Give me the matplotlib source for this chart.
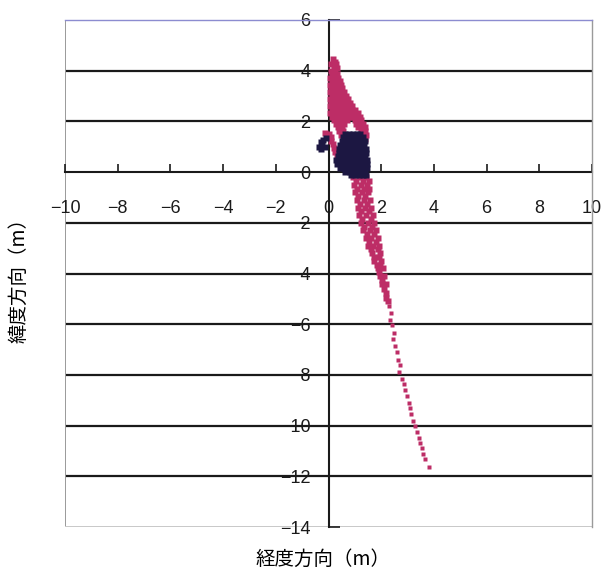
import matplotlib.pyplot as plt

plt.rcParams['font.family'] = ['Liberation Sans', 'Noto Sans CJK JP', 'DejaVu Sans']

# Crimson series, dense upper streak: (y, [x values]) read row by row
crimson_upper_rows = [
    (4.45, [0.17]),
    (4.35, [0.24]),
    (4.25, [0.11, 0.27]),
    (4.1, [0.19, 0.31]),
    (3.98, [0.08, 0.23]),
    (3.85, [0.15, 0.33]),
    (3.72, [0.06, 0.22, 0.37]),
    (3.58, [0.13, 0.3, 0.42]),
    (3.44, [0.04, 0.21, 0.36, 0.47]),
    (3.3, [0.11, 0.27, 0.43, 0.53]),
    (3.16, [0.05, 0.19, 0.34, 0.49, 0.6]),
    (3.02, [0.12, 0.27, 0.41, 0.56, 0.67]),
    (2.88, [0.04, 0.2, 0.36, 0.52, 0.66, 0.74]),
    (2.74, [0.11, 0.27, 0.43, 0.58, 0.71, 0.8]),
    (2.6, [0.05, 0.21, 0.37, 0.52, 0.68, 0.83, 0.9]),
    (2.46, [0.12, 0.28, 0.44, 0.6, 0.75, 0.88, 0.99]),
    (2.32, [0.04, 0.2, 0.36, 0.52, 0.67, 0.83, 0.97, 1.1]),
    (2.18, [0.13, 0.29, 0.45, 0.61, 0.77, 0.92, 1.06, 1.2]),
    (2.04, [0.2, 0.37, 0.53, 0.7, 0.99, 1.14, 1.25]),
    (1.9, [0.27, 0.44, 0.58, 1.04, 1.19, 1.32]),
    (1.76, [0.35, 0.51, 1.13, 1.27, 1.37]),
    (1.62, [0.41, 0.56, 1.22, 1.39]),
    (1.48, [0.46, 1.3, 1.42]),
    (1.32, [1.4]),
]

# Crimson points around the small left blob
crimson_left_x = [-0.12, -0.04, 0.02, 0.08, 0.11, 0.16, 0.21, 0.26, 0.31]
crimson_left_y = [1.55, 1.47, 1.52, 1.39, 1.24, 1.1, 0.95, 0.8, 0.66]

# Crimson series, dense lower streak
crimson_lower_rows = [
    (-0.2, [0.92, 1.18, 1.44]),
    (-0.35, [1.03, 1.3, 1.52]),
    (-0.5, [0.98, 1.22, 1.47]),
    (-0.65, [1.08, 1.36, 1.55]),
    (-0.8, [1.02, 1.27, 1.5]),
    (-0.95, [1.12, 1.4]),
    (-1.1, [1.07, 1.33, 1.58]),
    (-1.25, [1.18, 1.47]),
    (-1.4, [1.13, 1.38, 1.62]),
    (-1.55, [1.22, 1.52]),
    (-1.7, [1.17, 1.43, 1.68]),
    (-1.85, [1.28, 1.6]),
    (-2.0, [1.24, 1.5, 1.74]),
    (-2.15, [1.35, 1.66]),
    (-2.3, [1.32, 1.57, 1.8]),
    (-2.45, [1.45, 1.72]),
    (-2.6, [1.43, 1.63, 1.86]),
    (-2.75, [1.53, 1.79]),
    (-2.9, [1.5, 1.7, 1.92]),
    (-3.05, [1.62, 1.86]),
    (-3.2, [1.66, 1.95]),
    (-3.35, [1.74, 1.9]),
    (-3.5, [1.72, 2.0]),
    (-3.65, [1.83, 1.97]),
    (-3.8, [1.86, 2.07]),
    (-3.95, [1.93]),
    (-4.1, [1.97, 2.12]),
    (-4.25, [2.04]),
    (-4.4, [2.02, 2.18]),
    (-4.6, [2.12]),
    (-4.75, [2.2]),
    (-4.95, [2.17]),
    (-5.1, [2.26]),
]

# Crimson sparse tail
tail_x = [2.28, 2.36, 2.33, 2.42, 2.47, 2.44, 2.53, 2.58, 2.62, 2.7, 2.68,
          2.78, 2.86, 2.92, 2.98, 3.04, 3.1, 3.13, 3.22, 3.28, 3.35, 3.42,
          3.48, 3.55, 3.6, 3.68, 3.8]
tail_y = [-5.3, -5.55, -5.85, -6.05, -6.35, -6.6, -6.85, -7.1, -7.4, -7.6,
          -7.9, -8.15, -8.35, -8.6, -8.85, -9.1, -9.3, -9.55, -9.8, -10.0,
          -10.25, -10.5, -10.7, -10.9, -11.1, -11.3, -11.65]

# Navy series, main cluster
navy_rows = [
    (1.52, [0.62, 0.78, 0.93, 1.08, 1.2]),
    (1.37, [0.55, 0.7, 0.86, 1.01, 1.16, 1.3]),
    (1.22, [0.5, 0.66, 0.81, 0.96, 1.11, 1.26, 1.38]),
    (1.07, [0.45, 0.6, 0.75, 0.9, 1.05, 1.2, 1.35]),
    (0.92, [0.4, 0.55, 0.7, 0.85, 1.0, 1.15, 1.3, 1.41]),
    (0.77, [0.41, 0.56, 0.71, 0.86, 1.01, 1.16, 1.31, 1.42]),
    (0.62, [0.35, 0.5, 0.65, 0.8, 0.95, 1.1, 1.25, 1.4]),
    (0.47, [0.3, 0.45, 0.6, 0.75, 0.9, 1.05, 1.2, 1.35, 1.46]),
    (0.32, [0.31, 0.46, 0.61, 0.76, 0.91, 1.06, 1.21, 1.36, 1.46]),
    (0.17, [0.44, 0.6, 0.75, 0.9, 1.05, 1.2, 1.35, 1.45]),
    (0.02, [0.64, 0.8, 0.95, 1.1, 1.25, 1.4]),
    (-0.13, [0.86, 1.01, 1.16, 1.3, 1.41]),
]

# Navy small blob left of the axis
navy_blob_x = [-0.35, -0.3, -0.25, -0.2, -0.15, -0.1, -0.3]
navy_blob_y = [1.0, 0.9, 1.1, 1.25, 1.0, 1.35, 1.2]

x_ticks = list(range(-10, 11, 2))
y_ticks = list(range(-14, 7, 2))

CRIMSON = '#bd2d66'
NAVY = '#1c1742'


def flatten(rows):
    xs, ys = [], []
    for yv, row in rows:
        xs.extend(row)
        ys.extend([yv] * len(row))
    return xs, ys


fig = plt.figure(figsize=(6.03, 5.71), dpi=100)
ax = fig.add_axes([0.1078, 0.077, 0.874, 0.888])
ax.set_xlim(-10, 10)
ax.set_ylim(-14, 6)

# horizontal grid lines (inner ones only; the frame covers the limits)
for yv in y_ticks:
    if yv not in (y_ticks[0], y_ticks[-1], 0):
        ax.axhline(yv, color='#1a1a1a', lw=1.6, zorder=1)

# frame
ax.spines['top'].set_color('#8c8cd0')
ax.spines['right'].set_color('#9a9a9a')
ax.spines['top'].set_linewidth(1.0)
ax.spines['right'].set_linewidth(1.0)
ax.axvline(-10, color='#9a9a9a', lw=1.4, zorder=1)
ax.axhline(-14, color='#c8c8c8', lw=1.4, zorder=1)

# axes crossing at the origin
for side in ('left', 'bottom'):
    ax.spines[side].set_position(('data', 0))
    ax.spines[side].set_color('#1a1a1a')
    ax.spines[side].set_linewidth(1.5)
    ax.spines[side].set_zorder(2)

ax.set_xticks(x_ticks)
ax.set_yticks(y_ticks)
ax.tick_params(axis='x', direction='in', length=6, width=1.2, pad=20,
               labelsize=13, colors='#1a1a1a')
ax.tick_params(axis='y', direction='in', length=8, width=1.2, pad=13,
               labelsize=13, colors='#1a1a1a')

ux, uy = flatten(crimson_upper_rows)
lx, ly = flatten(crimson_lower_rows)
ax.plot(ux + crimson_left_x + lx, uy + crimson_left_y + ly, 's', ms=4.3,
        color=CRIMSON, mec='none', zorder=3)
ax.plot(tail_x, tail_y, 's', ms=2.6, color=CRIMSON, mec='none', zorder=3)

nx, ny = flatten(navy_rows)
ax.plot(nx + navy_blob_x, ny + navy_blob_y, 's', ms=4.8, color=NAVY,
        mec='none', zorder=4)

fig.text(0.536, 0.021, '経度方向（m）', fontsize=14, ha='center', va='center',
         family=['Noto Sans CJK JP', 'DejaVu Sans'])
fig.text(0.0315, 0.517, '緯度方向（m）', fontsize=14, ha='center', va='center',
         rotation=90, family=['Noto Sans CJK JP', 'DejaVu Sans'])

fig.savefig('out.png', dpi=100)
